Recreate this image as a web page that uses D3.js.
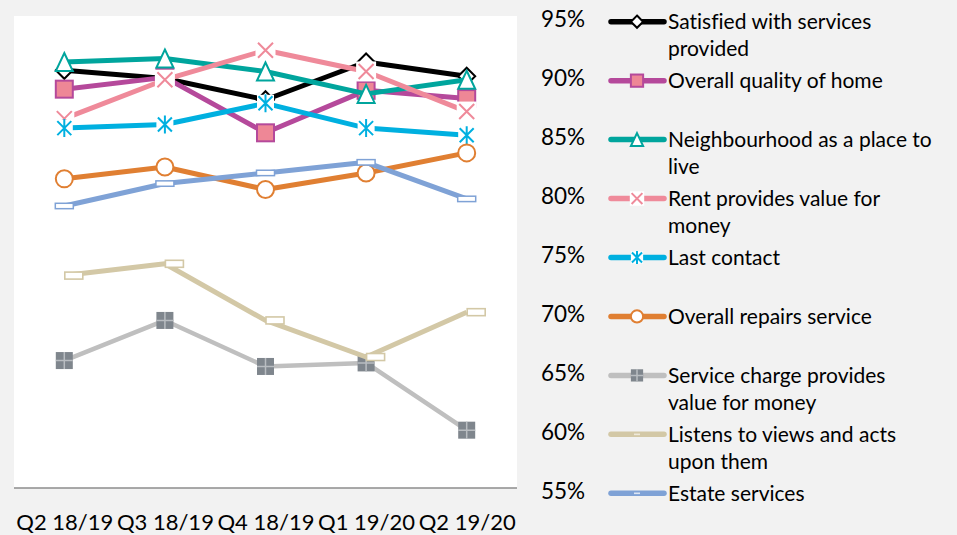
<!DOCTYPE html>
<html>
<head>
<meta charset="utf-8">
<script src="https://cdn.jsdelivr.net/npm/d3@7/dist/d3.min.js"></script>
<style>
  html, body { margin: 0; padding: 0; background: #f2f2f2; }
  svg { display: block; }
  text { font-family: "Lato", "Open Sans", sans-serif; fill: #000; font-variant-ligatures: none; }
</style>
</head>
<body>
<svg id="chart" width="957" height="535"></svg>
<script>
// ---------- data ----------
const categories = ["Q2 18/19", "Q3 18/19", "Q4 18/19", "Q1 19/20", "Q2 19/20"];
const seriesNames = [
  "Satisfied with services provided",
  "Overall quality of home",
  "Neighbourhood as a place to live",
  "Rent provides value for money",
  "Last contact",
  "Overall repairs service",
  "Service charge provides value for money",
  "Listens to views and acts upon them",
  "Estate services"
];
const legendLines = [
  ["Satisfied with services", "provided"],
  ["Overall quality of home"],
  ["Neighbourhood as a place to", "live"],
  ["Rent provides value for", "money"],
  ["Last contact"],
  ["Overall repairs service"],
  ["Service charge provides", "value for money"],
  ["Listens to views and acts", "upon them"],
  ["Estate services"]
];
const satisfied     = [90.4, 89.7, 87.9, 91.1, 89.9];
const quality       = [88.8, 89.8, 85.1, 88.7, 88.0];
const neighbourhood = [91.1, 91.4, 90.3, 88.4, 89.6];
const rent          = [86.3, 89.6, 92.1, 90.3, 86.9];
const lastContact   = [85.5, 85.8, 87.6, 85.5, 84.9];
const repairs       = [81.2, 82.2, 80.3, 81.7, 83.4];
const serviceCharge = [65.8, 69.2, 65.3, 65.6, 59.9];
const listens       = [73.0, 74.0, 69.2, 66.1, 69.9];
const estate        = [78.9, 80.8, 81.7, 82.6, 79.5];
const yTicks = [55, 60, 65, 70, 75, 80, 85, 90, 95];

// ---------- styles ----------
const styles = [
  { color: "#000000", marker: "diamond", width: 5 },
  { color: "#b5499b", marker: "square",  width: 5 },
  { color: "#00a59d", marker: "triangle", width: 5 },
  { color: "#ef8a9a", marker: "x",       width: 5 },
  { color: "#00b0e0", marker: "star",    width: 5 },
  { color: "#e07f32", marker: "circle",  width: 5 },
  { color: "#bfbfbf", marker: "plus",    width: 4.5 },
  { color: "#d3c8a6", marker: "rectR",   width: 5 },
  { color: "#7fa2d6", marker: "dash",    width: 5 }
];
const allValues = [satisfied, quality, neighbourhood, rent, lastContact, repairs, serviceCharge, listens, estate];

const svg = d3.select("#chart");
const plot = { left: 14, right: 517, top: 16, bottom: 488 };

svg.append("rect").attr("x", plot.left).attr("y", plot.top)
  .attr("width", plot.right - plot.left).attr("height", plot.bottom - plot.top)
  .attr("fill", "#ffffff");

const x = d3.scalePoint().domain(categories).range([plot.left, plot.right]).padding(0.5);
const y = d3.scaleLinear().domain([55, 95]).range([plot.bottom, plot.top]);

// x axis
const xAxis = svg.append("g").attr("transform", `translate(0,${plot.bottom})`)
  .call(d3.axisBottom(x).tickSize(0).tickPadding(0));
xAxis.select(".domain").remove();
svg.append("line").attr("x1", plot.left).attr("x2", plot.right)
  .attr("y1", plot.bottom).attr("y2", plot.bottom)
  .attr("stroke", "#8c8c8c").attr("stroke-width", 1.5);
xAxis.selectAll(".tick text")
  .attr("y", 34).attr("dy", "0.35em")
  .style("font-size", "22px").style("font-family", "Lato").attr("fill", "#000");

// y axis (labels to the right of plot)
const yAxis = svg.append("g").attr("transform", `translate(541,0)`)
  .call(d3.axisRight(y).tickValues(yTicks).tickSize(0).tickPadding(0).tickFormat(d => d + "%"));
yAxis.select(".domain").remove();
yAxis.selectAll(".tick text")
  .attr("text-anchor", "start").attr("x", 0).attr("dy", "0.45em")
  .style("font-size", "22.5px").style("font-family", "Lato").attr("fill", "#000");

// ---------- markers ----------
function drawMarker(g, type, color, cx, cy, s) {
  const m = g.append("g").attr("transform", `translate(${cx},${cy})`);
  if (type === "diamond") {
    const h = 8.5 * s;
    m.append("path").attr("d", `M0,${-h}L${h},0L0,${h}L${-h},0Z`)
      .attr("fill", "#fff").attr("stroke", color).attr("stroke-width", 2);
  } else if (type === "square") {
    const h = 8.5 * s;
    m.append("rect").attr("x", -h).attr("y", -h).attr("width", 2 * h).attr("height", 2 * h)
      .attr("fill", "#ee8796").attr("stroke", color).attr("stroke-width", 2);
  } else if (type === "triangle") {
    const w = 8.5 * s, h = 9 * s;
    m.append("path").attr("d", `M0,${-h}L${w},${h}L${-w},${h}Z`)
      .attr("fill", "#fff").attr("stroke", color).attr("stroke-width", 2).attr("stroke-linejoin", "miter");
  } else if (type === "x") {
    const b = 10 * s, h = 7.5 * s;
    m.append("rect").attr("x", -b).attr("y", -b).attr("width", 2 * b).attr("height", 2 * b).attr("fill", "#fff");
    m.append("path").attr("d", `M${-h},${-h}L${h},${h}M${h},${-h}L${-h},${h}`)
      .attr("stroke", color).attr("stroke-width", 2);
  } else if (type === "star") {
    const b = 8.5 * s, h = 7 * s, v = 9 * s;
    m.append("rect").attr("x", -b).attr("y", -b).attr("width", 2 * b).attr("height", 2 * b).attr("fill", "#fff");
    m.append("path").attr("d", `M${-h},${-h}L${h},${h}M${h},${-h}L${-h},${h}M0,${-v}L0,${v}`)
      .attr("stroke", color).attr("stroke-width", 2);
  } else if (type === "circle") {
    m.append("circle").attr("r", 8.5 * s)
      .attr("fill", "#fff").attr("stroke", color).attr("stroke-width", 2);
  } else if (type === "plus") {
    const h = 8.5 * s;
    m.append("rect").attr("x", -h).attr("y", -h).attr("width", 2 * h).attr("height", 2 * h)
      .attr("fill", "#7f868d");
    m.append("path").attr("d", `M${-h},0L${h},0M0,${-h}L0,${h}`)
      .attr("stroke", "#b9bdc1").attr("stroke-width", 1.5);
  } else if (type === "rectR") {
    if (s < 1) {
      m.append("rect").attr("x", -3).attr("y", -0.8).attr("width", 6).attr("height", 1.6).attr("fill", "#efe9da");
    } else {
      m.append("rect").attr("x", 0.5).attr("y", -3.5).attr("width", 18).attr("height", 7)
        .attr("fill", "#fff").attr("stroke", color).attr("stroke-width", 1.6);
    }
  } else if (type === "dash") {
    if (s < 1) {
      m.append("rect").attr("x", -3).attr("y", -0.8).attr("width", 6).attr("height", 1.6).attr("fill", "#dde6f4");
    } else {
      m.append("rect").attr("x", -9).attr("y", -2.7).attr("width", 18).attr("height", 5.4)
        .attr("fill", "#fff").attr("stroke", color).attr("stroke-width", 1.5);
    }
  }
}

// ---------- series ----------
const line = d3.line().x((d, i) => x(categories[i])).y(d => y(d));
const seriesG = svg.append("g");
allValues.forEach((vals, si) => {
  const st = styles[si];
  const g = seriesG.append("g");
  g.append("path").datum(vals).attr("d", line)
    .attr("fill", "none").attr("stroke", st.color).attr("stroke-width", st.width)
    .attr("stroke-linejoin", "round");
  vals.forEach((v, i) => drawMarker(g, st.marker, st.color, x(categories[i]), y(v), 1));
});

// ---------- legend ----------
const legend = svg.append("g");
legendLines.forEach((lines, i) => {
  const st = styles[i];
  const ly = 21.7 + i * 58.95;
  const g = legend.append("g");
  g.append("line").attr("x1", 611).attr("x2", 664).attr("y1", ly).attr("y2", ly)
    .attr("stroke", st.color).attr("stroke-width", 5.5).attr("stroke-linecap", "round");
  drawMarker(g, st.marker, st.color, 637, ly, 0.72);
  lines.forEach((t, j) => {
    g.append("text").attr("x", 668).attr("y", ly + j * 27).attr("dy", "0.36em")
      .style("font-size", "21px").text(t);
  });
});
</script>
</body>
</html>
